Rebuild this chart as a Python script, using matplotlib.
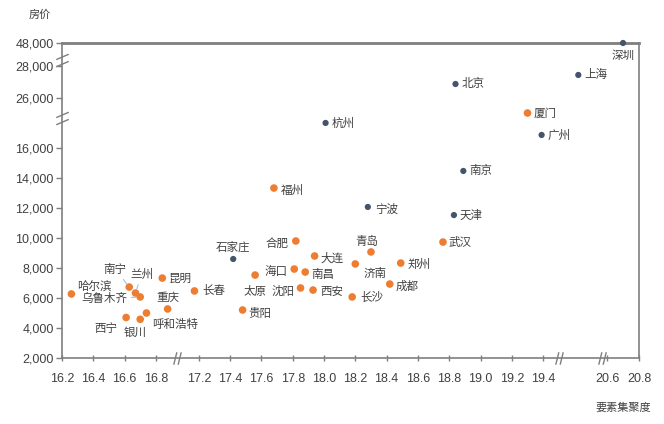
import numpy as np
import matplotlib
matplotlib.use("Agg")
import matplotlib.pyplot as plt
from matplotlib.path import Path

plt.rcParams["font.family"] = ["Noto Sans CJK SC", "DejaVu Sans"]

# ---- data ----
cities = ["深圳", "上海", "北京", "厦门", "广州", "杭州", "南京", "福州", "宁波", "天津",
          "武汉", "合肥", "青岛", "大连", "石家庄", "济南", "郑州", "海口", "南昌", "太原",
          "成都", "沈阳", "西安", "长沙", "贵阳", "长春", "昆明", "重庆", "哈尔滨", "南宁",
          "兰州", "乌鲁木齐", "西宁", "银川", "呼和浩特"]
agglomeration = [20.70, 20.06, 18.84, 19.30, 19.39, 18.01, 18.89, 17.68, 18.28, 18.83,
                 18.76, 17.82, 18.30, 17.94, 17.42, 18.20, 18.49, 17.81, 17.88, 17.56,
                 18.42, 17.85, 17.93, 18.18, 17.48, 17.16, 16.86, 16.91, 16.26, 16.63,
                 16.67, 16.70, 16.61, 16.70, 16.74]
price = [48000, 27440, 26875, 20000, 16870, 17670, 14470, 13330, 12070, 11530,
         9730, 9800, 9070, 8800, 8600, 8270, 8330, 7930, 7730, 7530,
         6930, 6670, 6530, 6070, 5200, 6470, 7330, 5270, 6270, 6730,
         6330, 6070, 4700, 4580, 5000]
tier = ["a", "a", "a", "b", "a", "a", "a", "b", "a", "a",
        "b", "b", "b", "b", "a", "b", "b", "b", "b", "b",
        "b", "b", "b", "b", "b", "b", "b", "b", "b", "b",
        "b", "b", "b", "b", "b"]

x_ticks = [16.2, 16.4, 16.6, 16.8, 17.2, 17.4, 17.6, 17.8, 18.0, 18.2, 18.4,
           18.6, 18.8, 19.0, 19.2, 19.4, 20.6, 20.8]
y_ticks = [2000, 4000, 6000, 8000, 10000, 12000, 14000, 16000, 26000, 28000, 48000]

# broken-axis anchors (data value -> relative screen position)
x_anchor_data = [16.2, 16.8, 17.2, 19.4, 20.6, 20.8]
x_anchor_pos = [0, 94, 137, 482, 546, 578]
y_anchor_data = [2000, 16000, 18000, 26000, 28000, 48000]
y_anchor_pos = [0, 210, 240, 260, 292, 315]
x_breaks = [17.0, 19.7, 20.5]
y_breaks = [18000, 33000]

colors = {"a": "#44546A", "b": "#ED7D31"}
sizes = {"a": 20, "b": 30}

# label placement: (dx px, dy px, ha)
label_pos = {
    "深圳": (0, -13, "center"), "石家庄": (0, 11, "center"), "青岛": (-4, 10, "center"),
    "合肥": (-7, -2, "right"), "海口": (-7, -2, "right"), "太原": (0, -16, "center"),
    "沈阳": (-6, -3, "right"), "西安": (7, -1, "left"), "南昌": (6, -2, "left"),
    "大连": (6, -2, "left"), "济南": (8, -10, "left"), "郑州": (7, -1, "left"),
    "成都": (6, -2, "left"), "长沙": (8, -1, "left"), "贵阳": (6, -3, "left"),
    "宁波": (7, -2, "left"), "福州": (7, -2, "left"), "长春": (8, 0, "left"),
    "重庆": (0, 12, "center"), "哈尔滨": (6, 7, "left"), "南宁": (-14, 18, "center"),
    "兰州": (6, 19, "center"), "乌鲁木齐": (-13, -2, "right"), "西宁": (-9, -11, "right"),
    "银川": (-5, -13, "center"), "呼和浩特": (6, -11, "left"),
}
leaders = {"南宁", "兰州", "乌鲁木齐"}


def broken_scale(data_pts, pos_pts):
    d = np.asarray(data_pts, float)
    p = np.asarray(pos_pts, float)
    s0 = (p[1] - p[0]) / (d[1] - d[0])
    s1 = (p[-1] - p[-2]) / (d[-1] - d[-2])
    big = 1e6
    d_ext = np.r_[d[0] - big, d, d[-1] + big]
    p_ext = np.r_[p[0] - big * s0, p, p[-1] + big * s1]
    return (lambda v: np.interp(v, d_ext, p_ext),
            lambda v: np.interp(v, p_ext, d_ext))


fig = plt.figure(figsize=(6.64, 4.24), dpi=100)
ax = fig.add_axes([62 / 664, 1 - 358 / 424, 577 / 664, 315 / 424])

ax.set_xscale("function", functions=broken_scale(x_anchor_data, x_anchor_pos))
ax.set_yscale("function", functions=broken_scale(y_anchor_data, y_anchor_pos))
ax.set_xlim(16.2, 20.8)
ax.set_ylim(2000, 48000)

for t in ["a", "b"]:
    idx = [i for i, g in enumerate(tier) if g == t]
    ax.scatter([agglomeration[i] for i in idx], [price[i] for i in idx],
               s=sizes[t], color=colors[t], edgecolors="none", zorder=3, clip_on=False)

for name, xv, yv in zip(cities, agglomeration, price):
    dx, dy, ha = label_pos.get(name, (6, 0, "left"))
    arrow = None
    if name in leaders:
        arrow = dict(arrowstyle="-", color="#9DC3E6", lw=0.8, shrinkA=1, shrinkB=3)
    ax.annotate(name, (xv, yv), xytext=(dx, dy), textcoords="offset pixels",
                ha=ha, va="center", fontsize=8.3, color="#404040",
                arrowprops=arrow, zorder=4, annotation_clip=False)

ax.set_xticks(x_ticks)
ax.set_xticklabels([f"{v:.1f}" for v in x_ticks])
ax.set_yticks(y_ticks)
ax.set_yticklabels([f"{v:,}" for v in y_ticks])
ax.minorticks_off()
for lab in ax.get_xticklabels() + ax.get_yticklabels():
    lab.set_fontfamily(["Liberation Sans", "DejaVu Sans"])
ax.tick_params(axis="x", direction="inout", length=5, width=1, color="#7F7F7F",
               labelsize=9, labelcolor="#404040", pad=8)
ax.tick_params(axis="y", direction="out", length=4, width=1, color="#7F7F7F",
               labelsize=9, labelcolor="#404040", pad=2)

for side, sp in ax.spines.items():
    sp.set_color("#7F7F7F")
    sp.set_linewidth(1.2)
ax.spines["top"].set_linewidth(2)

# axis break marks
xmark = Path([(-0.6, -1), (-0.1, 1), (0.1, -1), (0.6, 1)],
             [Path.MOVETO, Path.LINETO, Path.MOVETO, Path.LINETO])
ymark = Path([(-0.7, -0.7), (0.7, -0.1), (-0.7, 0.1), (0.7, 0.7)],
             [Path.MOVETO, Path.LINETO, Path.MOVETO, Path.LINETO])
ax.plot(x_breaks, [0] * len(x_breaks), transform=ax.get_xaxis_transform(),
        ls="none", marker=xmark, ms=9, mec="#7F7F7F", mew=1, clip_on=False, zorder=5)
ax.plot([0] * len(y_breaks), y_breaks, transform=ax.get_yaxis_transform(),
        ls="none", marker=ymark, ms=9, mec="#7F7F7F", mew=1, clip_on=False, zorder=5)

fig.text(40 / 664, 1 - 15 / 424, "房价", ha="center", va="center",
         fontsize=8, color="#404040")
fig.text(623 / 664, 1 - 408 / 424, "要素集聚度", ha="center", va="center",
         fontsize=8, color="#404040")

fig.savefig("out.png", dpi=100, facecolor="white")
